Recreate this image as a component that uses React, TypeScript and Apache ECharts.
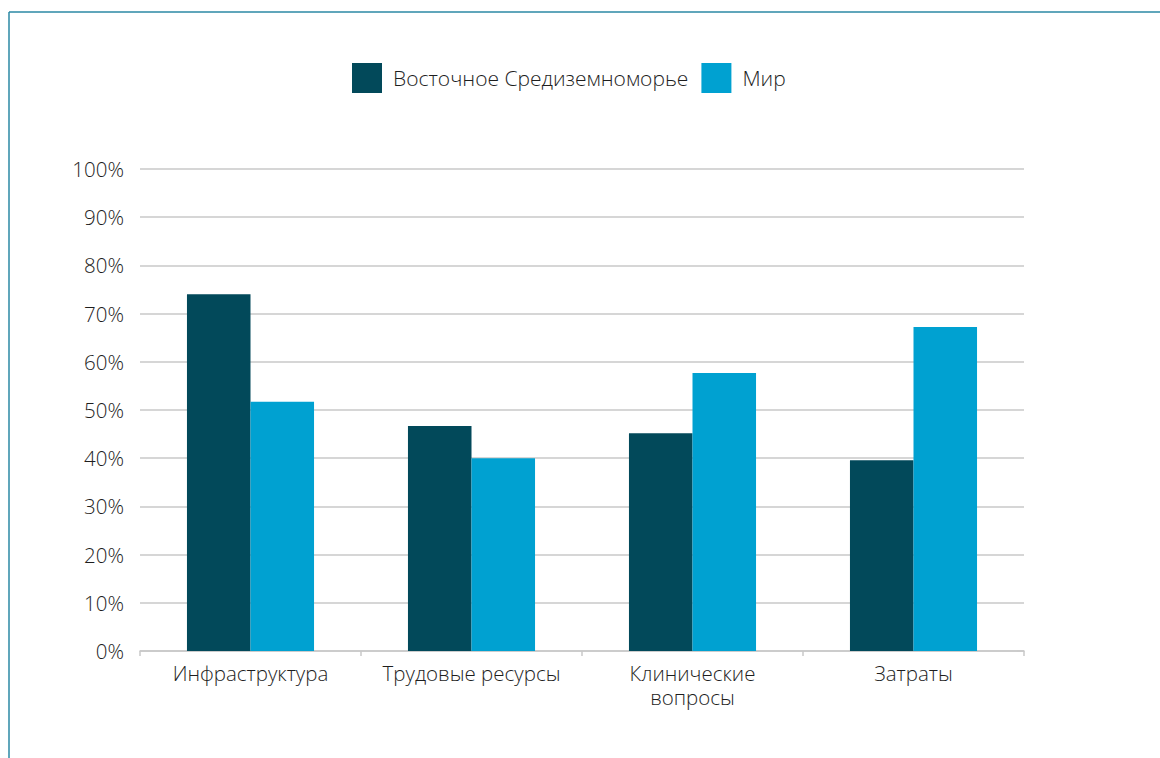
import React, { useEffect, useRef } from "react";
import * as echarts from "echarts";

const categories = ["Инфраструктура", "Трудовые ресурсы", "Клинические\nвопросы", "Затраты"];
const seriesNames = ["Восточное Средиземноморье", "Мир"];
const emroValues = [74.0, 46.7, 45.2, 39.6];
const worldValues = [51.7, 40.0, 57.7, 67.2];
const yTicks = [0, 10, 20, 30, 40, 50, 60, 70, 80, 90, 100];

const DARK = "#02495a";
const LIGHT = "#00a1d1";
const FONT = "'Open Sans', 'Liberation Sans', Arial, sans-serif";

export default function App() {
  const ref = useRef<HTMLDivElement>(null);
  useEffect(() => {
    document.body.style.margin = "0";
    const chart = echarts.init(ref.current!, null, { renderer: "svg" });
    chart.setOption({
      animation: false,
      backgroundColor: "#ffffff",
      textStyle: { fontFamily: FONT },
      graphic: [
        { type: "line", shape: { x1: 9, y1: 12, x2: 1160, y2: 12 }, style: { stroke: "#2b89a5", lineWidth: 1.5 } },
        { type: "line", shape: { x1: 9, y1: 12, x2: 9, y2: 758 }, style: { stroke: "#2b89a5", lineWidth: 1.5 } },
      ],
      legend: {
        left: 347,
        top: 58,
        itemWidth: 30,
        itemHeight: 30,
        itemGap: 13,
        icon: "rect",
        data: seriesNames,
        textStyle: { fontSize: 21, color: "#1e1e1e", fontFamily: FONT, fontWeight: 300, padding: [0, 0, 0, 6] },
      },
      grid: { left: 140, right: 136, top: 169, bottom: 107, containLabel: false },
      xAxis: {
        type: "category",
        data: categories,
        axisLine: { lineStyle: { color: "#c8c8c8", width: 1.5 } },
        axisTick: { show: true, interval: 0, length: 5, lineStyle: { color: "#c8c8c8", width: 1.5 } },
        axisLabel: { interval: 0, fontSize: 20.5, color: "#1e1e1e", margin: 10, lineHeight: 24, fontFamily: FONT, fontWeight: 300 },
      },
      yAxis: {
        type: "value",
        min: 0,
        max: 100,
        interval: 10,
        axisLine: { show: false },
        axisTick: { show: false },
        splitLine: { lineStyle: { color: "#c8c8c8", width: 1.5 } },
        axisLabel: {
          fontSize: 20.5,
          color: "#1e1e1e",
          margin: 16,
          fontFamily: FONT,
          fontWeight: 300,
          formatter: (v: number) => (yTicks.includes(v) ? v + "%" : ""),
        },
      },
      series: [
        {
          name: seriesNames[0],
          type: "bar",
          data: emroValues,
          barGap: "0%",
          barCategoryGap: "42.5%",
          itemStyle: { color: DARK },
        },
        {
          name: seriesNames[1],
          type: "bar",
          data: worldValues,
          barGap: "0%",
          barCategoryGap: "42.5%",
          itemStyle: { color: LIGHT },
        },
      ],
    });
    return () => chart.dispose();
  }, []);
  return <div ref={ref} style={{ width: 1160, height: 758 }} />;
}
